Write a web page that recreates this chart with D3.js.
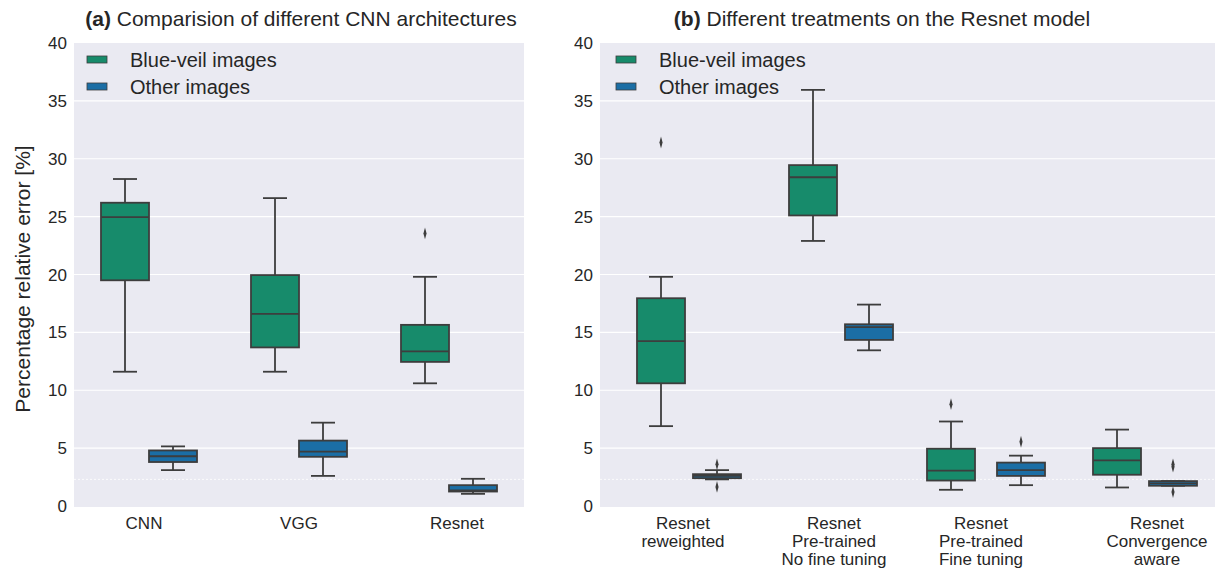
<!DOCTYPE html>
<html>
<head>
<meta charset="utf-8">
<script src="https://cdn.jsdelivr.net/npm/d3@7"></script>
<style>
  body { margin: 0; background: #fff; }
  svg text { font-family: "Liberation Sans", Arial, sans-serif; fill: #262626; }
</style>
</head>
<body>
<div id="chart"></div>
<script>
// Series names and colours (seaborn colorblind, desaturated)
const seriesNames = ["Blue-veil images", "Other images"];
const seriesColors = ["#178b6b", "#1b6ea5"];

// Panel (a): CNN architectures. Box stats: [low whisker, Q1, median, Q3, high whisker]
const archCategories = ["CNN", "VGG", "Resnet"];
const archBlueVeil = [
  [11.6, 19.5, 24.95, 26.2, 28.25],
  [11.6, 13.7, 16.6, 19.95, 26.6],
  [10.6, 12.45, 13.35, 15.65, 19.8]
];
const archOther = [
  [3.1, 3.8, 4.3, 4.8, 5.15],
  [2.6, 4.25, 4.7, 5.65, 7.2],
  [1.05, 1.25, 1.35, 1.8, 2.35]
];
const archBlueVeilOutliers = [[], [], [23.55]];
const archOtherOutliers = [[], [], []];

// Panel (b): treatments on Resnet
const treatCategories = [
  ["Resnet", "reweighted"],
  ["Resnet", "Pre-trained", "No fine tuning"],
  ["Resnet", "Pre-trained", "Fine tuning"],
  ["Resnet", "Convergence", "aware"]
];
const treatBlueVeil = [
  [6.9, 10.6, 14.25, 17.95, 19.8],
  [22.9, 25.1, 28.4, 29.45, 35.95],
  [1.4, 2.2, 3.05, 4.95, 7.3],
  [1.6, 2.7, 3.95, 5.0, 6.6]
];
const treatOther = [
  [2.3, 2.4, 2.6, 2.75, 3.1],
  [13.45, 14.35, 15.45, 15.7, 17.4],
  [1.8, 2.6, 3.1, 3.75, 4.35],
  [1.75, 1.75, 1.95, 2.15, 2.15]
];
const treatBlueVeilOutliers = [[31.4], [], [8.8], []];
const treatOtherOutliers = [[3.6, 1.65], [], [5.55], [3.4, 3.6, 1.2]];

const yTicks = [0, 5, 10, 15, 20, 25, 30, 35, 40];

const W = 1215, H = 569;
const plotTop = 43, plotBottom = 507;
const edge = "#3d3d3d";

const svg = d3.select("#chart").append("svg")
  .attr("width", W).attr("height", H);

const y = d3.scaleLinear().domain([0, 40]).range([506, 43]);

function panel(opts) {
  const g = svg.append("g");
  // background
  g.append("rect")
    .attr("x", opts.left).attr("y", plotTop)
    .attr("width", opts.right - opts.left).attr("height", plotBottom - plotTop)
    .attr("fill", "#eaeaf2");

  // grid lines
  g.selectAll(".grid").data(yTicks.slice(1, -1)).enter().append("line")
    .attr("x1", opts.left).attr("x2", opts.right)
    .attr("y1", d => y(d)).attr("y2", d => y(d))
    .attr("stroke", "#fff").attr("stroke-width", 1.2);

  // faint dotted line near the bottom
  g.append("line")
    .attr("x1", opts.left).attr("x2", opts.right)
    .attr("y1", y(2.3)).attr("y2", y(2.3))
    .attr("stroke", "#fff").attr("stroke-width", 0.8)
    .attr("stroke-dasharray", "2,2");

  // y tick labels
  g.selectAll(".ytick").data(yTicks).enter().append("text")
    .attr("x", opts.left - 7).attr("y", d => y(d) + 6)
    .attr("text-anchor", "end")
    .style("font-size", "17px")
    .text(d => d);

  const x = d3.scaleBand()
    .domain(d3.range(opts.categories.length))
    .range(opts.xRange);

  const boxW = 48;
  const series = [
    { stats: opts.blueVeil, outliers: opts.blueVeilOut, color: seriesColors[0], side: -1 },
    { stats: opts.other, outliers: opts.otherOut, color: seriesColors[1], side: 1 }
  ];

  series.forEach(s => {
    s.stats.forEach((st, i) => {
      const shift = s.side < 0 && opts.greenShift ? opts.greenShift[i] : 0;
      const cx = x(i) + x.bandwidth() / 2 + s.side * opts.offset + shift;
      const bg = g.append("g");
      // whiskers
      bg.append("line").attr("x1", cx).attr("x2", cx)
        .attr("y1", y(st[3])).attr("y2", y(st[4]))
        .attr("stroke", edge).attr("stroke-width", 1.8);
      bg.append("line").attr("x1", cx).attr("x2", cx)
        .attr("y1", y(st[1])).attr("y2", y(st[0]))
        .attr("stroke", edge).attr("stroke-width", 1.8);
      [st[0], st[4]].forEach(v => {
        bg.append("line").attr("x1", cx - boxW / 4).attr("x2", cx + boxW / 4)
          .attr("y1", y(v)).attr("y2", y(v))
          .attr("stroke", edge).attr("stroke-width", 1.8);
      });
      // box
      bg.append("rect")
        .attr("x", cx - boxW / 2).attr("width", boxW)
        .attr("y", y(st[3])).attr("height", Math.max(y(st[1]) - y(st[3]), 1))
        .attr("fill", s.color)
        .attr("stroke", edge).attr("stroke-width", 1.8);
      // median
      bg.append("line").attr("x1", cx - boxW / 2).attr("x2", cx + boxW / 2)
        .attr("y1", y(st[2])).attr("y2", y(st[2]))
        .attr("stroke", edge).attr("stroke-width", 1.8);
      // outliers (diamonds)
      bg.selectAll(".fl").data(s.outliers[i]).enter().append("path")
        .attr("d", d3.symbol().type(d3.symbolDiamond).size(24))
        .attr("transform", d => `translate(${cx},${y(d)}) scale(0.6,1.3)`)
        .attr("fill", edge);
    });
  });

  // x tick labels
  opts.categories.forEach((c, i) => {
    const lines = Array.isArray(c) ? c : [c];
    const cx = x(i) + x.bandwidth() / 2 + (opts.labelDx ? opts.labelDx[i] : 0);
    const t = g.append("text")
      .attr("x", cx)
      .attr("y", 529 + (opts.labelShift ? opts.labelShift[i] : 0))
      .attr("text-anchor", "middle")
      .style("font-size", "17px");
    lines.forEach((l, k) => {
      t.append("tspan").attr("x", cx)
        .attr("dy", k === 0 ? 0 : 18).text(l);
    });
  });

  // title
  const title = g.append("text")
    .attr("x", opts.titleX).attr("y", 26)
    .attr("text-anchor", "middle")
    .style("font-size", "21px");
  title.append("tspan").style("font-weight", "bold").text(opts.titleTag);
  title.append("tspan").text(" " + opts.title);

  // legend
  const lg = g.append("g");
  seriesNames.forEach((n, i) => {
    lg.append("rect")
      .attr("x", opts.left + opts.legendDx).attr("y", 56 + i * 27)
      .attr("width", 20).attr("height", 7)
      .attr("fill", seriesColors[i])
      .attr("stroke", edge).attr("stroke-width", 0.8);
    lg.append("text")
      .attr("x", opts.left + opts.legendDx + 43).attr("y", 67 + i * 27)
      .style("font-size", "20px")
      .text(n);
  });
}

panel({
  left: 74, right: 524, xRange: [74, 524],
  categories: archCategories,
  blueVeil: archBlueVeil, other: archOther,
  blueVeilOut: archBlueVeilOutliers, otherOut: archOtherOutliers,
  offset: 24,
  labelDx: [-5, 0, 8],
  legendDx: 13,
  titleX: 301, titleTag: "(a)", title: "Comparision of different CNN architectures"
});

panel({
  left: 600, right: 1215, xRange: [613, 1221],
  categories: treatCategories,
  blueVeil: treatBlueVeil, other: treatOther,
  blueVeilOut: treatBlueVeilOutliers, otherOut: treatOtherOutliers,
  offset: 28,
  greenShift: [0, 0, -14, 0],
  labelDx: [-6, -7, -12, 12],
  labelShift: [0, 0, 0, 0],
  legendDx: 16,
  titleX: 882, titleTag: "(b)", title: "Different treatments on the Resnet model"
});

// shared y-axis label
svg.append("text")
  .attr("transform", `translate(30,${(plotTop + plotBottom) / 2 + 4}) rotate(-90)`)
  .attr("text-anchor", "middle")
  .style("font-size", "21px")
  .text("Percentage relative error [%]");
</script>
</body>
</html>
